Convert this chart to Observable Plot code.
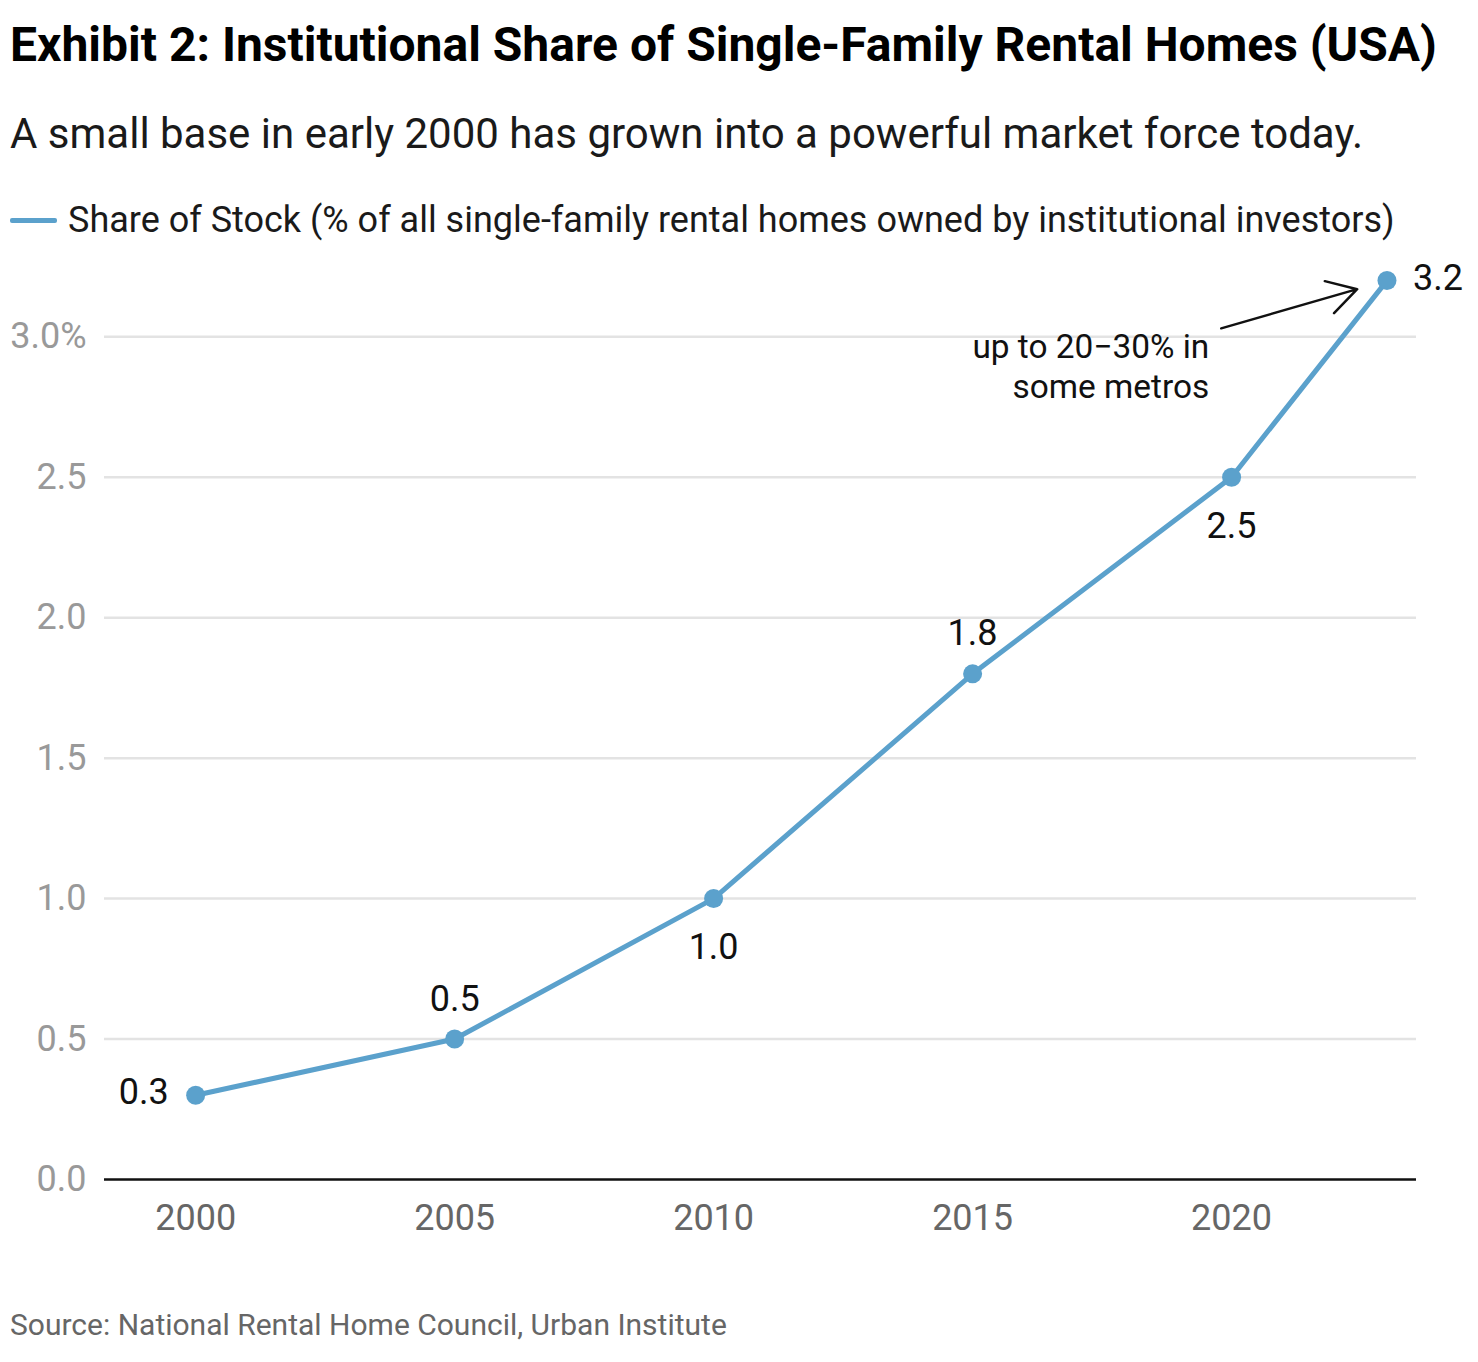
<!DOCTYPE html>
<html>
<head>
<meta charset="utf-8">
<script src="https://cdn.jsdelivr.net/npm/d3@7"></script>
<script src="https://cdn.jsdelivr.net/npm/@observablehq/plot@0.6"></script>
<style>
  html, body { margin: 0; padding: 0; background: #fff; }
  body { width: 1478px; height: 1362px; position: relative; font-family: Roboto, "Noto Sans", sans-serif; color: #111; }
  .header { position: relative; height: 250px; }
  .title { position: absolute; left: 10px; top: 21px; font-weight: 700; font-size: 48px; line-height: 48px; color: #000; white-space: nowrap; }
  .subtitle { position: absolute; left: 10px; top: 113px; font-size: 42px; line-height: 42px; color: #1a1a1a; white-space: nowrap; }
  .legend { position: absolute; left: 10px; top: 202px; font-size: 36px; line-height: 36px; color: #1a1a1a; white-space: nowrap; }
  .swatch { position: absolute; left: 10px; top: 218px; width: 47px; height: 5px; background: #5ba1cc; border-radius: 2px; }
  .legend span { position: absolute; left: 58px; top: 0; }
  .source { position: absolute; left: 10px; top: 1310px; font-size: 30px; line-height: 30px; color: #666; white-space: nowrap; }
  #chart svg { display: block; }
</style>
</head>
<body>
<div class="header">
  <div class="title">Exhibit 2: Institutional Share of Single-Family Rental Homes (USA)</div>
  <div class="subtitle">A small base in early 2000 has grown into a powerful market force today.</div>
  <div class="swatch"></div>
  <div class="legend"><span>Share of Stock (% of all single-family rental homes owned by institutional investors)</span></div>
</div>
<div id="chart"></div>
<div class="source">Source: National Rental Home Council, Urban Institute</div>
<script>
// Data
const years = [2000, 2005, 2010, 2015, 2020, 2023];
const shares = [0.3, 0.5, 1.0, 1.8, 2.5, 3.2];
const shareLabels = ["0.3", "0.5", "1.0", "1.8", "2.5", "3.2"];
const xTicks = [2000, 2005, 2010, 2015, 2020];
const yTicks = [0, 0.5, 1.0, 1.5, 2.0, 2.5, 3.0];
const annotationLines = ["up to 20\u221230% in", "some metros"];
const annotationAnchor = {year: 2019.8, share: 3.03};

const data = years.map((y, i) => ({year: y, share: shares[i], label: shareLabels[i]}));
const placement = ["left", "above", "below", "above", "below", "right"];
const byPlace = p => data.filter((d, i) => placement[i] === p);

const blue = "#5ba1cc";
const yFmt = d => d === 3 ? "3.0%" : d.toFixed(1);
const chart = Plot.plot({
  width: 1478,
  height: 1000,
  marginLeft: 104,
  marginRight: 62,
  marginTop: 2,
  marginBottom: 71,
  style: {fontFamily: "Roboto, sans-serif", background: "#fff", overflow: "visible"},
  x: {domain: [1998.24, 2023.57], label: null},
  y: {domain: [0, 3.3], label: null},
  marks: [
    Plot.gridY(yTicks.filter(t => t > 0), {stroke: "#e3e3e3", strokeWidth: 2.5, strokeOpacity: 1}),
    Plot.axisY({ticks: yTicks, tickFormat: yFmt, tickSize: 0, tickPadding: 18, fontSize: 36, fill: "#999", label: null}),
    Plot.axisX({ticks: xTicks, tickFormat: d => String(d), tickSize: 0, tickPadding: 25, fontSize: 36, fill: "#666", label: null}),
    Plot.ruleY([0], {stroke: "#111", strokeWidth: 2.5}),
    Plot.line(data, {x: "year", y: "share", stroke: blue, strokeWidth: 5}),
    Plot.dot(data, {x: "year", y: "share", r: 9.5, fill: blue, stroke: null}),
    Plot.text(byPlace("left"), {x: "year", y: "share", text: "label", textAnchor: "end", dx: -27, dy: -3, fontSize: 36, fill: "#111"}),
    Plot.text(byPlace("right"), {x: "year", y: "share", text: "label", textAnchor: "start", dx: 26, dy: -2, fontSize: 36, fill: "#111"}),
    Plot.text(byPlace("above"), {x: "year", y: "share", text: "label", dy: -40, fontSize: 36, fill: "#111"}),
    Plot.text(byPlace("below"), {x: "year", y: "share", text: "label", dy: 49, fontSize: 36, fill: "#111"}),
    Plot.arrow([{x1: annotationAnchor.year, y1: annotationAnchor.share, x2: years[years.length - 1], y2: shares[shares.length - 1]}],
      {x1: "x1", y1: "y1", x2: "x2", y2: "y2", stroke: "#111", strokeWidth: 2.5, headLength: 20, insetEnd: 31, bend: 0}),
    Plot.text([annotationLines.join("\n")], {x: annotationAnchor.year, y: annotationAnchor.share, text: d => d, textAnchor: "end", lineAnchor: "middle", lineHeight: 1.2, dx: -12, dy: 37, fontSize: 33.4, fill: "#111"})
  ]
});
document.getElementById("chart").appendChild(chart);
</script>
</body>
</html>
